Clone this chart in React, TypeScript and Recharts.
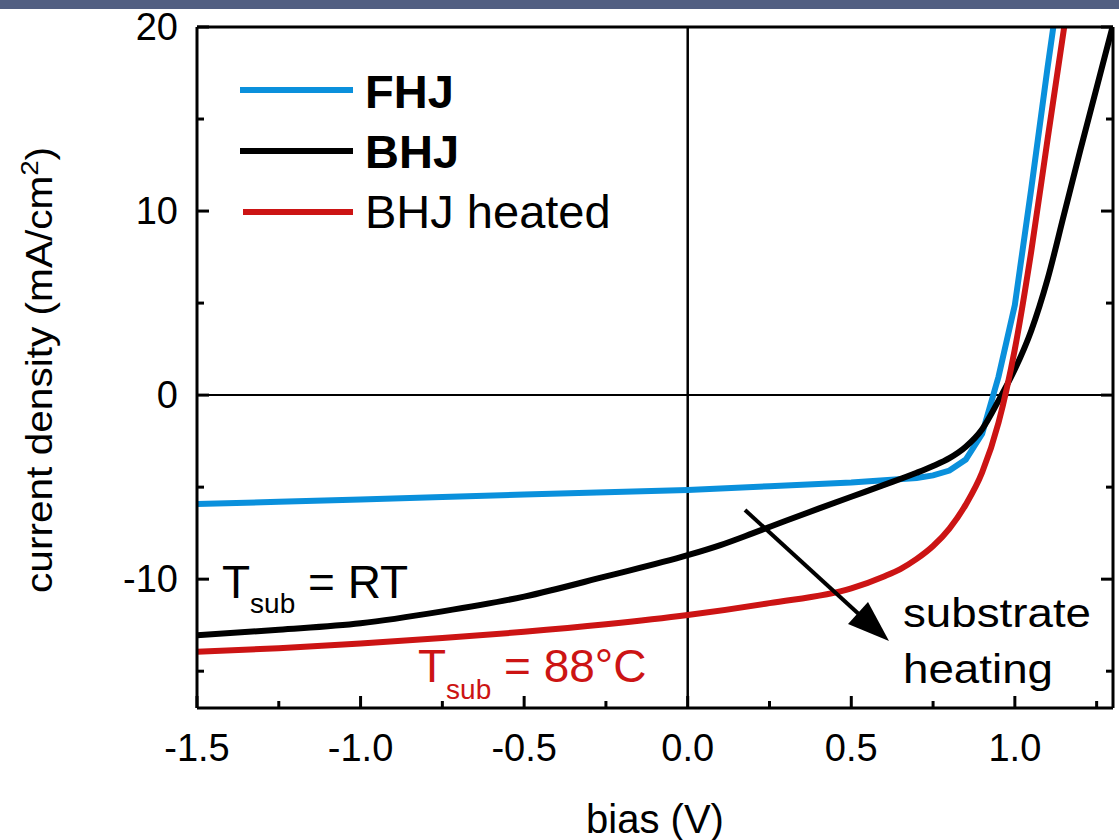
import React from "react";
import { LineChart, Line, XAxis, YAxis, ReferenceLine, Legend } from "recharts";

// J-V curves (bias in V, current density in mA/cm2)
const biasFHJ = [-1.5, -1.25, -1.0, -0.75, -0.5, -0.25, 0, 0.25, 0.5, 0.6, 0.7, 0.75, 0.8, 0.85, 0.9, 0.95, 1.0, 1.05, 1.1, 1.12];
const currentFHJ = [-5.92, -5.8, -5.67, -5.53, -5.4, -5.28, -5.15, -4.95, -4.75, -4.62, -4.5, -4.36, -4.1, -3.5, -2.1, 1.0, 4.9, 11.2, 17.8, 20.3];

const biasBHJ = [-1.5, -1.25, -1.0, -0.75, -0.5, -0.25, 0, 0.1, 0.2, 0.3, 0.4, 0.5, 0.6, 0.7, 0.75, 0.8, 0.85, 0.9, 0.95, 1.0, 1.05, 1.1, 1.15, 1.2, 1.25, 1.3];
const currentBHJ = [-13.05, -12.75, -12.4, -11.75, -10.95, -9.85, -8.7, -8.15, -7.5, -6.83, -6.17, -5.52, -4.88, -4.22, -3.85, -3.42, -2.8, -1.85, -0.3, 1.4, 3.5, 6.3, 9.8, 13.3, 16.7, 20.1];

const biasHeated = [-1.5, -1.25, -1.0, -0.75, -0.5, -0.25, 0, 0.25, 0.5, 0.6, 0.65, 0.7, 0.75, 0.8, 0.85, 0.9, 0.95, 1.0, 1.05, 1.1, 1.155];
const currentHeated = [-13.95, -13.75, -13.5, -13.2, -12.86, -12.45, -11.95, -11.3, -10.5, -9.85, -9.45, -8.9, -8.2, -7.25, -5.95, -4.2, -1.5, 2.5, 7.8, 13.9, 20.5];

const xTicks = [-1.5, -1.25, -1.0, -0.75, -0.5, -0.25, 0, 0.25, 0.5, 0.75, 1.0, 1.25];
const yTicks = [-15, -10, -5, 0, 5, 10, 15, 20];

const toPoints = (bias: number[], current: number[]) => bias.map((v, i) => ({ v, j: current[i] }));

const series = [
  { name: "FHJ", data: toPoints(biasFHJ, currentFHJ), color: "#0a90dc", bold: true, curve: "linear" },
  { name: "BHJ", data: toPoints(biasBHJ, currentBHJ), color: "#000000", bold: true, curve: "monotone" },
  { name: "BHJ heated", data: toPoints(biasHeated, currentHeated), color: "#cc1414", bold: false, curve: "monotone" },
];

const FONT = '"Liberation Sans", Arial, Helvetica, sans-serif';
const MAJOR = 12;
const MINOR = 7;

const isMajorX = (v: number) => Math.abs(v * 2 - Math.round(v * 2)) < 1e-6;
const isMajorY = (v: number) => v % 10 === 0;

const BottomTick = (props: any) => {
  const { x, y, payload } = props;
  const major = isMajorX(payload.value);
  return (
    <g>
      <line x1={x} x2={x} y1={y} y2={y - (major ? MAJOR : MINOR)} stroke="#000" strokeWidth={3} />
      {major && (
        <text x={x} y={y + 53} textAnchor="middle" fontSize={38} fontFamily={FONT} fill="#000">
          {payload.value.toFixed(1)}
        </text>
      )}
    </g>
  );
};

const TopTick = (props: any) => {
  const { x, y, payload } = props;
  const major = isMajorX(payload.value);
  return <line x1={x} x2={x} y1={y} y2={y + (major ? MAJOR : MINOR)} stroke="#000" strokeWidth={3} />;
};

const LeftTick = (props: any) => {
  const { x, y, payload } = props;
  const major = isMajorY(payload.value);
  return (
    <g>
      <line x1={x} x2={x + (major ? MAJOR : MINOR)} y1={y} y2={y} stroke="#000" strokeWidth={3} />
      {major && (
        <text x={x - 19} y={y + 13} textAnchor="end" fontSize={38} fontFamily={FONT} fill="#000">
          {payload.value}
        </text>
      )}
    </g>
  );
};

const RightTick = (props: any) => {
  const { x, y, payload } = props;
  const major = isMajorY(payload.value);
  return <line x1={x} x2={x - (major ? MAJOR : MINOR)} y1={y} y2={y} stroke="#000" strokeWidth={3} />;
};

const renderLegend = () => (
  <svg width={420} height={200}>
    {series.map((s, i) => (
      <g key={s.name}>
        <line x1={s.bold ? 10 : 13} x2={123} y1={40 + i * 61} y2={40 + i * 61} stroke={s.color} strokeWidth={6} />
        <text x={135} y={58 + i * 60} fontSize={47} fontWeight={s.bold ? "bold" : "normal"} fontFamily={FONT} fill="#000">
          {s.name}
        </text>
      </g>
    ))}
  </svg>
);

const axisLine = { stroke: "#000", strokeWidth: 3 };

const App: React.FC = () => {
  return (
    <div style={{ position: "absolute", left: 0, top: 0, width: 1119, height: 840, background: "#fff" }}>
      <LineChart width={1119} height={840} margin={{ top: 26, right: 5, bottom: 131, left: 196 }}>
        <XAxis
          dataKey="v"
          type="number"
          domain={[-1.5, 1.3]}
          allowDataOverflow
          ticks={xTicks}
          interval={0}
          height={1}
          tickSize={0}
          tickMargin={0}
          tick={BottomTick}
          axisLine={axisLine}
        />
        <XAxis
          xAxisId="top"
          orientation="top"
          type="number"
          domain={[-1.5, 1.3]}
          allowDataOverflow
          ticks={xTicks}
          interval={0}
          height={1}
          tickSize={0}
          tickMargin={0}
          tick={TopTick}
          axisLine={axisLine}
        />
        <YAxis
          type="number"
          domain={[-17, 20]}
          allowDataOverflow
          ticks={yTicks}
          interval={0}
          width={1}
          tickSize={0}
          tickMargin={0}
          tick={LeftTick}
          axisLine={axisLine}
        />
        <YAxis
          yAxisId="right"
          orientation="right"
          type="number"
          domain={[-17, 20]}
          allowDataOverflow
          ticks={yTicks}
          interval={0}
          width={1}
          tickSize={0}
          tickMargin={0}
          tick={RightTick}
          axisLine={axisLine}
        />
        <ReferenceLine x={0} stroke="#000" strokeWidth={2.5} />
        <ReferenceLine y={0} stroke="#000" strokeWidth={2} />
        <Legend
          content={renderLegend}
          layout="horizontal"
          verticalAlign="middle"
          align="center"
          wrapperStyle={{ left: 230, top: 50, width: 420, height: 200 }}
        />
        {series.map((s) => (
          <Line
            key={s.name}
            name={s.name}
            data={s.data}
            dataKey="j"
            type={s.curve as any}
            stroke={s.color}
            strokeWidth={6}
            dot={false}
            activeDot={false}
            isAnimationActive={false}
          />
        ))}
      </LineChart>

      <svg
        width={1119}
        height={840}
        style={{ position: "absolute", left: 0, top: 0, pointerEvents: "none" }}
        fontFamily={FONT}
      >
        <rect x={0} y={0} width={1119} height={9} fill="#525f82" />
        <text
          transform="translate(52,370) rotate(-90)"
          textAnchor="middle"
          fontSize={36}
          textLength={446}
          lengthAdjust="spacingAndGlyphs"
          fill="#000"
        >
          current density (mA/cm<tspan dy={-14} fontSize={24}>2</tspan>
          <tspan dy={14}>)</tspan>
        </text>
        <text x={655} y={833} textAnchor="middle" fontSize={40} fill="#000">
          bias (V)
        </text>
        <text x={222} y={598} fontSize={46} fill="#000">
          T<tspan fontSize={28} dy={15}>sub</tspan>
          <tspan dy={-15}> = RT</tspan>
        </text>
        <text x={418} y={682} fontSize={46} fill="#cc1414">
          T<tspan fontSize={28} dy={17}>sub</tspan>
          <tspan dy={-17}> = 88°C</tspan>
        </text>
        <text x={903} y={627} fontSize={40} textLength={188} lengthAdjust="spacingAndGlyphs" fill="#000">
          substrate
        </text>
        <text x={903} y={683} fontSize={40} textLength={150} lengthAdjust="spacingAndGlyphs" fill="#000">
          heating
        </text>
        <line x1={745} y1={510} x2={862} y2={617} stroke="#000" strokeWidth={4} />
        <polygon points="889,641 848,624 868,602" fill="#000" />
      </svg>
    </div>
  );
};

export default App;
